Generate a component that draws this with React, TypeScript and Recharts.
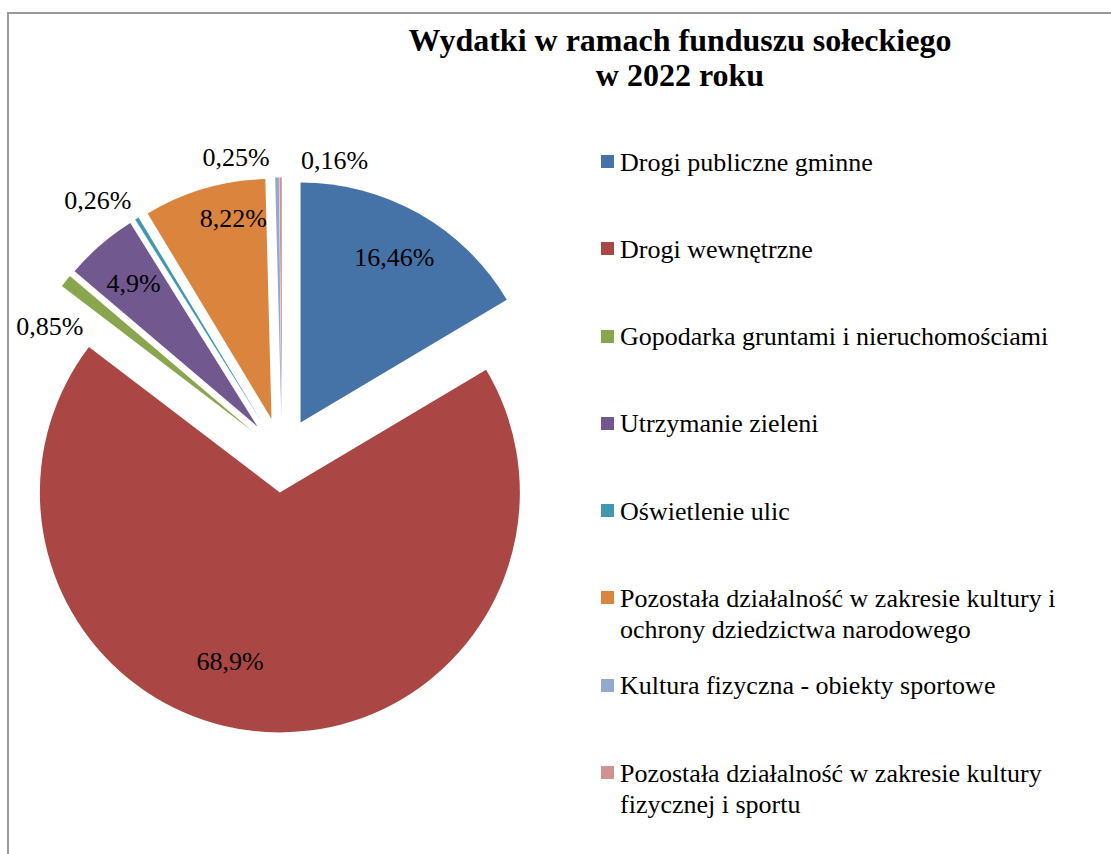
import React from "react";
import { PieChart, Pie, Cell, Sector, Legend } from "recharts";

// ---- data ----
const categories = [
  "Drogi publiczne gminne",
  "Drogi wewnętrzne",
  "Gopodarka gruntami i nieruchomościami",
  "Utrzymanie zieleni",
  "Oświetlenie ulic",
  "Pozostała działalność w zakresie kultury i ochrony dziedzictwa narodowego",
  "Kultura fizyczna - obiekty sportowe",
  "Pozostała działalność w zakresie kultury fizycznej i sportu",
];
const shares = [16.46, 68.9, 0.85, 4.9, 0.26, 8.22, 0.25, 0.16];
const title = ["Wydatki w ramach funduszu sołeckiego", "w 2022 roku"];

// ---- style / layout ----
const COLORS = ["#4572A7", "#AA4643", "#89A54E", "#71588F", "#4198AF", "#DB843D", "#93A9CF", "#D19392"];
const FONT = '"Liberation Serif", "Times New Roman", serif';
const RADIUS = 240;
const EXPLODE = 37.5;
// label placement: inside labels (r from exploded apex) vs outside labels, plus small nudges
const INSIDE_MIN = 1;
const LABEL_NUDGE: [number, number][] = [
  [0, 0],
  [-39, -20],
  [-16, 45],
  [0, 0],
  [-39, -18],
  [15, -18],
  [-41, -20],
  [54, -17],
];

const data = categories.map((name, i) => ({ name, value: shares[i] }));
const fmt = (v: number) => String(v).replace(".", ",") + "%";

const RAD = Math.PI / 180;

const ExplodedSector = (props: any) => {
  const { cx, cy, midAngle, innerRadius, outerRadius, startAngle, endAngle, fill } = props;
  const dx = EXPLODE * Math.cos(-midAngle * RAD);
  const dy = EXPLODE * Math.sin(-midAngle * RAD);
  return (
    <Sector
      cx={cx + dx}
      cy={cy + dy}
      innerRadius={innerRadius}
      outerRadius={outerRadius}
      startAngle={startAngle}
      endAngle={endAngle}
      fill={fill}
      stroke="none"
    />
  );
};

const renderLabel = (props: any) => {
  const { cx, cy, midAngle, outerRadius, index, value } = props;
  const ux = Math.cos(-midAngle * RAD);
  const uy = Math.sin(-midAngle * RAD);
  const r = value >= INSIDE_MIN ? EXPLODE + outerRadius * 0.79 : EXPLODE + outerRadius;
  const [nx, ny] = LABEL_NUDGE[index] || [0, 0];
  const x = cx + r * ux + nx;
  const y = cy + r * uy + ny;
  return (
    <text
      key={`lbl-${index}`}
      x={x}
      y={y}
      textAnchor="middle"
      dominantBaseline="central"
      fill="#000"
      style={{ fontFamily: FONT, fontSize: 26 }}
    >
      {fmt(value)}
    </text>
  );
};

const LegendContent = (props: any) => {
  const payload = [...(props.payload || [])].sort(
    (a: any, b: any) => categories.indexOf(a.value) - categories.indexOf(b.value)
  );
  return (
    <div style={{ fontFamily: FONT, fontSize: 26, color: "#000" }}>
      {payload.map((entry: any) => {
        const idx = categories.indexOf(entry.value);
        return (
          <div key={entry.value} style={{ display: "flex", alignItems: "flex-start", height: 87.3 }}>
            <span
              style={{
                display: "inline-block",
                width: 13,
                height: 13,
                marginTop: 8.5,
                marginRight: 6,
                background: COLORS[idx] || entry.color,
                flex: "0 0 auto",
              }}
            />
            <span style={{ lineHeight: "31px", width: 460 }}>{entry.value}</span>
          </div>
        );
      })}
    </div>
  );
};

export default function App() {
  return (
    <div
      style={{
        position: "absolute",
        left: 0,
        top: 0,
        width: 1111,
        height: 854,
        overflow: "hidden",
        background: "#fff",
        fontFamily: FONT,
      }}
    >
      <div
        style={{
          position: "absolute",
          left: 7,
          top: 12,
          width: 1300,
          height: 1000,
          borderLeft: "2px solid #9a9a9a",
          borderTop: "2px solid #9a9a9a",
        }}
      />
      <div
        style={{
          position: "absolute",
          left: 380,
          top: 23,
          width: 600,
          textAlign: "center",
          fontFamily: FONT,
          fontWeight: "bold",
          fontSize: 32,
          lineHeight: "35px",
          color: "#000",
        }}
      >
        {title.map((t, i) => (
          <div key={i}>{t}</div>
        ))}
      </div>
      <div style={{ position: "absolute", left: 0, top: 0 }}>
        <PieChart width={1111} height={854} margin={{ top: 0, right: 0, bottom: 0, left: 0 }}>
          <Pie
            data={data}
            dataKey="value"
            nameKey="name"
            cx={282}
            cy={455}
            outerRadius={RADIUS}
            startAngle={90}
            endAngle={-270}
            stroke="none"
            isAnimationActive={false}
            shape={ExplodedSector}
            activeShape={ExplodedSector}
            inactiveShape={ExplodedSector}
            label={renderLabel}
            labelLine={false}
          >
            {data.map((d, i) => (
              <Cell key={d.name} fill={COLORS[i]} />
            ))}
          </Pie>
          <Legend
            layout="vertical"
            itemSorter={null}
            content={LegendContent}
            wrapperStyle={{ position: "absolute", left: 601, top: 146.5, width: 490 }}
          />
        </PieChart>
      </div>
    </div>
  );
}
